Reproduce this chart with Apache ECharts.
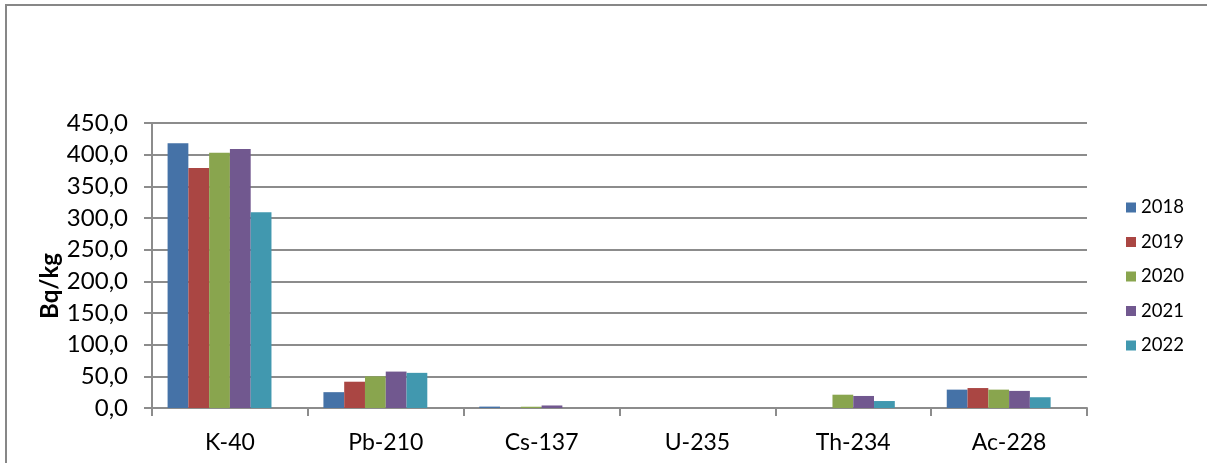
<!DOCTYPE html>
<html>
<head>
<meta charset="utf-8">
<script src="https://cdn.jsdelivr.net/npm/echarts@6/dist/echarts.min.js"></script>
<style>
html,body{margin:0;padding:0;background:#fff;}
#chart{width:1207px;height:463px;}
</style>
</head>
<body>
<div id="chart"></div>
<script>
const categories = ['K-40', 'Pb-210', 'Cs-137', 'U-235', 'Th-234', 'Ac-228'];
const years = ['2018', '2019', '2020', '2021', '2022'];
const v2018 = [418, 25, 2.2, null, null, 29];
const v2019 = [379, 41.5, null, null, null, 31.5];
const v2020 = [403, 50, 2.0, null, 21, 29];
const v2021 = [409, 57.5, 4.0, null, 19, 27];
const v2022 = [309, 55.5, null, null, 11, 17];
const vEmpty = [null, null, null, null, null, null];
const yTicks = [0, 50, 100, 150, 200, 250, 300, 350, 400, 450];

const colors = ['#4572A7', '#AA4643', '#89A54E', '#71588F', '#4198AF', '#F79646'];
const seriesData = [v2018, v2019, v2020, v2021, v2022, vEmpty];
const font = 'Lato, "Open Sans", sans-serif';

const chart = echarts.init(document.getElementById('chart'));
chart.setOption({
  animation: false,
  color: colors,
  graphic: [
    {type: 'rect', shape: {x: 6, y: 5, width: 1400, height: 600}, style: {fill: 'none', stroke: '#878787', lineWidth: 2}, silent: true},
    {type: 'text', x: 50, y: 286, rotation: Math.PI / 2,
     style: {text: 'Bq/kg', font: 'bold 24px ' + font, fill: '#000', textAlign: 'center', textVerticalAlign: 'middle'}}
  ],
  grid: {left: 152, right: 120, top: 123, bottom: 55, containLabel: false},
  legend: {
    data: years, orient: 'vertical', left: 1121, top: 193,
    icon: 'rect', itemWidth: 10, itemHeight: 10, itemGap: 15.5,
    textStyle: {fontFamily: font, fontSize: 18.5, color: '#000'}
  },
  xAxis: {
    type: 'category', data: categories,
    axisLine: {lineStyle: {color: '#8c8c8c', width: 2}},
    axisTick: {show: true, length: 8, lineStyle: {color: '#8c8c8c', width: 2}},
    axisLabel: {fontFamily: font, fontSize: 23, color: '#000', margin: 23}
  },
  yAxis: {
    type: 'value', min: yTicks[0], max: yTicks[yTicks.length - 1], interval: yTicks[1] - yTicks[0],
    axisLine: {show: true, lineStyle: {color: '#8c8c8c', width: 2}},
    axisTick: {show: true, length: 8, lineStyle: {color: '#8c8c8c', width: 2}},
    splitLine: {lineStyle: {color: '#8c8c8c', width: 2}},
    axisLabel: {fontFamily: font, fontSize: 24, color: '#000', margin: 24,
      formatter: v => v.toFixed(1).replace('.', ',')}
  },
  series: seriesData.map((d, i) => ({
    name: i < years.length ? years[i] : '2023',
    type: 'bar', data: d, barGap: '0%', barCategoryGap: '20%'
  }))
});
</script>
</body>
</html>
